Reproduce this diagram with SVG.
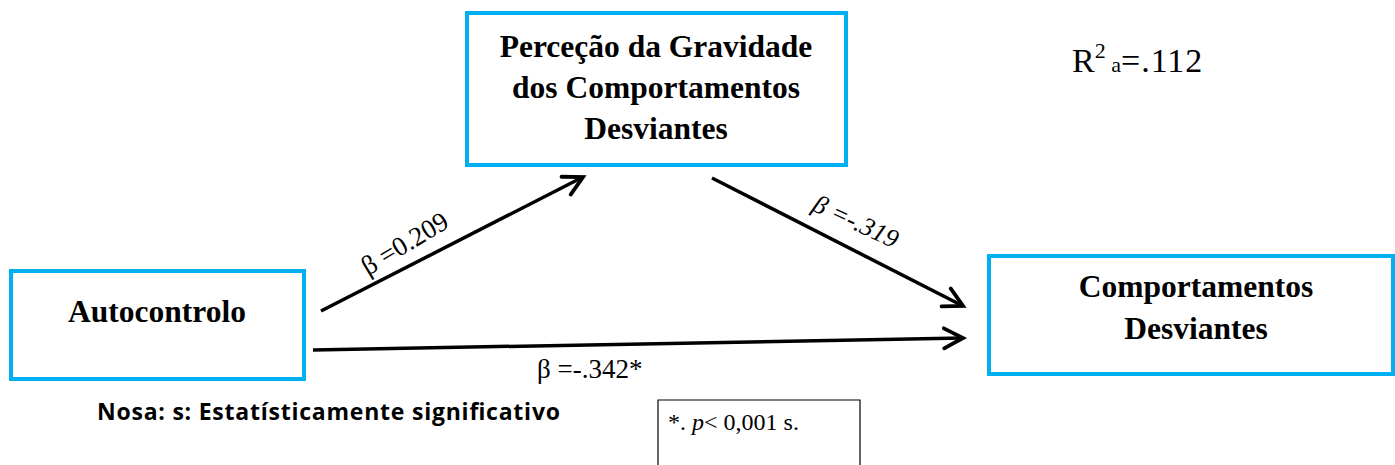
<svg xmlns="http://www.w3.org/2000/svg" width="1395" height="465" viewBox="0 0 1395 465">
<style>
.box{fill:#fff;stroke:#00B0F0;stroke-width:4}
.lbl{font-family:"Liberation Serif","Times New Roman",serif;font-weight:bold;font-size:31.5px;fill:#000;text-anchor:middle}
.edge{stroke:#000;stroke-width:3.5;fill:none;marker-end:url(#arr)}
.coef{font-family:"Liberation Serif","Times New Roman",serif;font-size:27px;fill:#000}
.note{font-family:"Open Sans","Liberation Sans",Arial,sans-serif;font-weight:bold;font-size:23px;fill:#000}
</style>
<defs>
<marker id="arr" markerWidth="10" markerHeight="10" viewBox="-8 -5 10 10" refX="0" refY="0" orient="auto" markerUnits="userSpaceOnUse" overflow="visible">
<path d="M-19,-10 L0,0 L-19,10" fill="none" stroke="#000" stroke-width="3.8" stroke-linecap="round" stroke-linejoin="miter"/>
</marker>
</defs>
<rect width="1395" height="465" fill="#fff"/>
<g id="connectors">
<line class="edge" x1="321" y1="311" x2="583" y2="177"/>
<line class="edge" x1="712" y1="178" x2="963" y2="306"/>
<line class="edge" x1="313" y1="350" x2="963" y2="338"/>
</g>
<g id="node-percecao">
<rect class="box" x="467" y="13" width="379" height="152"/>
<text class="lbl" x="656" y="57">Perceção da Gravidade</text>
<text class="lbl" x="656" y="98">dos Comportamentos</text>
<text class="lbl" x="656" y="139">Desviantes</text>
</g>
<g id="node-autocontrolo">
<rect class="box" x="11" y="271" width="293" height="108"/>
<text class="lbl" x="157" y="322">Autocontrolo</text>
</g>
<g id="node-comportamentos">
<rect class="box" x="989" y="256" width="404" height="118"/>
<text class="lbl" x="1196" y="297">Comportamentos</text>
<text class="lbl" x="1196" y="339">Desviantes</text>
</g>
<g id="labels">
<text class="coef" transform="translate(368,276) rotate(-31)">β =0.209</text>
<text class="coef" style="font-style:italic;font-size:26px" transform="translate(811,210) rotate(25)">β =-.319</text>
<text class="coef" x="537" y="378">β =-.342*</text>
<text class="coef" x="1072" y="72" style="font-size:34px">R<tspan style="font-size:22px" dy="-14">2</tspan><tspan style="font-size:22px" dy="14"> a</tspan><tspan letter-spacing="1">=.112</tspan></text>
<text class="note" x="97" y="420" textLength="463" lengthAdjust="spacing">Nosa: s: Estatísticamente significativo</text>
</g>
<g id="note-box">
<path d="M658,465 L658,400 L860,400 L860,465" fill="none" stroke="#000" stroke-width="1.2"/>
<text class="coef" x="668" y="430" style="font-size:24px">*. <tspan font-style="italic">p</tspan>&lt; 0,001 s.</text>
</g>
</svg>
